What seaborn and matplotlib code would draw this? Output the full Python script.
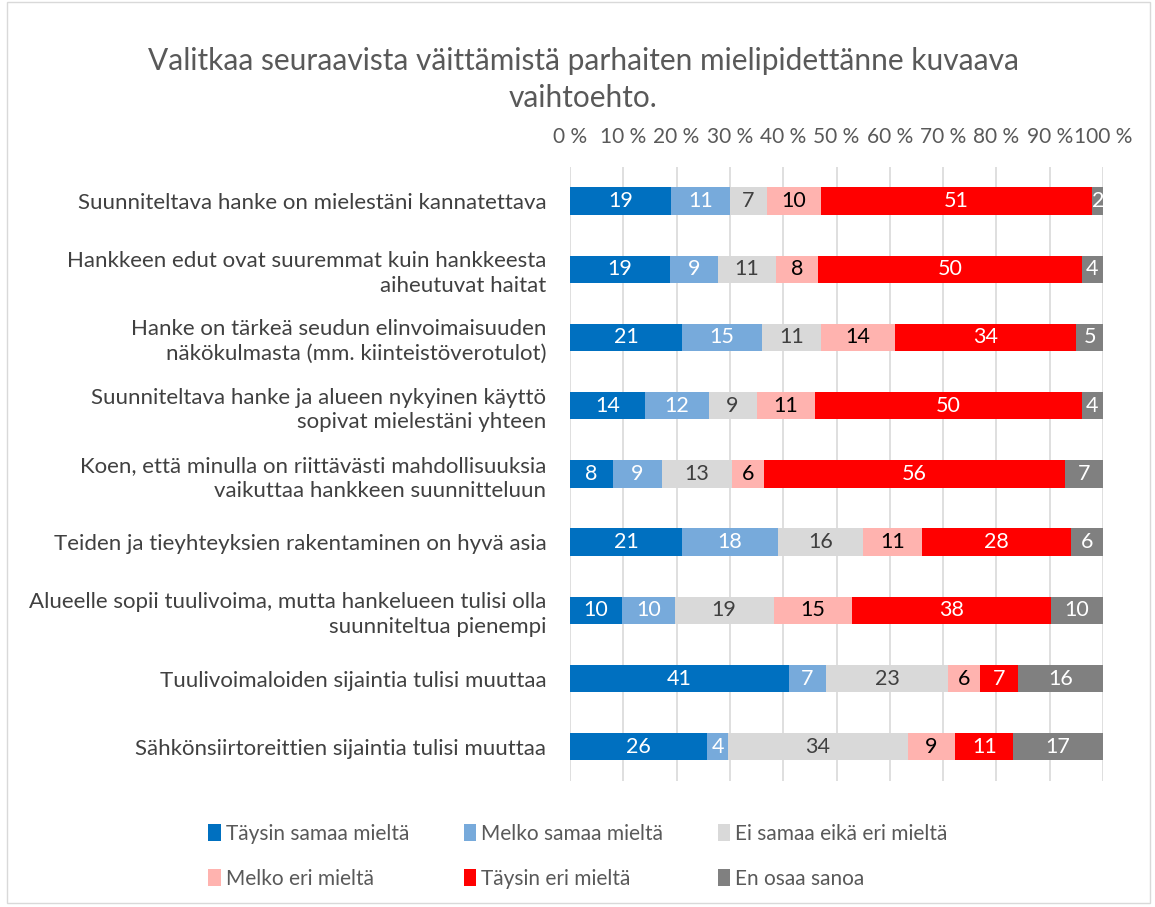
import numpy as np
import pandas as pd
import seaborn as sns
import matplotlib.pyplot as plt
from matplotlib.patches import Patch, Rectangle

questions = [
    "Suunniteltava hanke on mielestäni kannatettava",
    "Hankkeen edut ovat suuremmat kuin hankkeesta\naiheutuvat haitat",
    "Hanke on tärkeä seudun elinvoimaisuuden\nnäkökulmasta (mm. kiinteistöverotulot)",
    "Suunniteltava hanke ja alueen nykyinen käyttö\nsopivat mielestäni yhteen",
    "Koen, että minulla on riittävästi mahdollisuuksia\nvaikuttaa hankkeen suunnitteluun",
    "Teiden ja tieyhteyksien rakentaminen on hyvä asia",
    "Alueelle sopii tuulivoima, mutta hankelueen tulisi olla\nsuunniteltua pienempi",
    "Tuulivoimaloiden sijaintia tulisi muuttaa",
    "Sähkönsiirtoreittien sijaintia tulisi muuttaa",
]

series = ["Täysin samaa mieltä", "Melko samaa mieltä", "Ei samaa eikä eri mieltä",
          "Melko eri mieltä", "Täysin eri mieltä", "En osaa sanoa"]

taysin_samaa = [19, 19, 21, 14, 8, 21, 10, 41, 26]
melko_samaa = [11, 9, 15, 12, 9, 18, 10, 7, 4]
ei_samaa_eika_eri = [7, 11, 11, 9, 13, 16, 19, 23, 34]
melko_eri = [10, 8, 14, 11, 6, 11, 15, 6, 9]
taysin_eri = [51, 50, 34, 50, 56, 28, 38, 7, 11]
en_osaa = [2, 4, 5, 4, 7, 6, 10, 16, 17]

colors = ["#0070C0", "#77AADB", "#D9D9D9", "#FFB3AF", "#FF0000", "#808080"]
label_colors = ["white", "white", "#404040", "black", "white", "white"]

values = np.array([taysin_samaa, melko_samaa, ei_samaa_eika_eri,
                   melko_eri, taysin_eri, en_osaa], dtype=float)
pct = values / values.sum(axis=0) * 100
cum = pct.cumsum(axis=0)

plt.rcParams['font.family'] = ['Lato', 'DejaVu Sans']

fig = plt.figure(figsize=(11.55, 9.07), dpi=100)
ax = fig.add_axes([0.4935, 0.139, 0.4615, 0.677])

# draw cumulative layers from the last series to the first so each sits on top
for i in range(len(series) - 1, -1, -1):
    df = pd.DataFrame({"question": questions, "cum": cum[i]})
    sns.barplot(data=df, x="cum", y="question", color=colors[i], orient="h",
                width=0.4, saturation=1, ax=ax, zorder=3)

for i in range(len(series)):
    starts = cum[i] - pct[i]
    for j, q in enumerate(questions):
        ax.text(starts[j] + pct[i][j] / 2, j, f"{int(values[i][j])}",
                ha="center", va="center", fontsize=15.5, color=label_colors[i], zorder=5)

ax.set_xlim(0, 100)
ax.set_ylim(len(questions) - 0.5, -0.5)
ax.set_xticks(np.arange(0, 101, 10))
ax.set_xticklabels([f"{t} %" for t in range(0, 101, 10)])
ax.xaxis.tick_top()
ax.tick_params(axis="x", length=0, labelsize=15, labelcolor="#595959", pad=14)
ax.tick_params(axis="y", length=0, labelsize=16, labelcolor="#404040", pad=17)
for lab in ax.get_yticklabels():
    lab.set_linespacing(1.3)
ax.set_xlabel("")
ax.set_ylabel("")
ax.grid(axis="x", color="#D9D9D9", linewidth=1.2, zorder=0)
ax.set_axisbelow(True)
for s in ax.spines.values():
    s.set_visible(False)

fig.text(0.505, 0.912, "Valitkaa seuraavista väittämistä parhaiten mielipidettänne kuvaava\nvaihtoehto.",
         ha="center", va="center", fontsize=21.5, color="#595959", linespacing=1.4)

# legend filled row by row: reorder for matplotlib's column-wise fill
order = [0, 3, 1, 4, 2, 5]
handles = [Patch(facecolor=colors[k], edgecolor="none") for k in order]
labels = [series[k] for k in order]
fig.legend(handles, labels, loc="center", bbox_to_anchor=(0.5005, 0.056), ncol=3,
           frameon=False, fontsize=15, labelcolor="#595959", handlelength=0.6,
           handleheight=0.85, handletextpad=0.25, columnspacing=2.6, labelspacing=1.2,
           alignment="left")

fig.patches.append(Rectangle((0.006, 0.004), 0.99, 0.994, transform=fig.transFigure,
                             fill=False, edgecolor="#D9D9D9", linewidth=1))

fig.savefig("out.png", dpi=100)
